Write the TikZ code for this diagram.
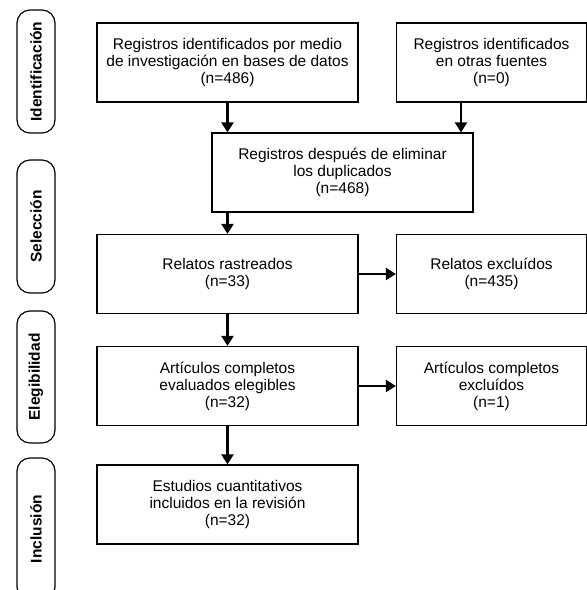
\documentclass[tikz,border=0pt]{standalone}
\usepackage{fontspec}
\setmainfont{Liberation Sans}
\usetikzlibrary{arrows.meta}
\begin{document}
\begin{tikzpicture}[x=1pt,y=-1pt,
  box/.style={draw, line width=1.2pt, minimum width=261pt, minimum height=79pt, align=center, inner sep=0pt,
    font=\fontsize{15.5pt}{17pt}\selectfont},
  sbox/.style={box, minimum width=190pt},
  phase/.style={draw, line width=1.2pt, rounded corners=13pt, rotate=90, minimum height=38pt, inner sep=0pt,
    font=\bfseries\fontsize{15.5pt}{17pt}\selectfont},
  arr/.style={line width=2.2pt, -{Triangle[length=10pt,width=12pt]}}]
\clip (0,0) rectangle (587,590);
\fill[white] (0,0) rectangle (587,590);
% phase labels
\node[phase, minimum width=123pt] (p1) at (36,71.5) {Identificación};
\node[phase, minimum width=133pt] (p2) at (36,226.5) {Selección};
\node[phase, minimum width=132pt] (p3) at (36,377) {Elegibilidad};
\node[phase, minimum width=142pt] (p4) at (36,529) {Inclusión};
% boxes
\node[box] (b1) at (227.5,62.5) {Registros identificados por medio\\de investigación en bases de datos\\(n=486)};
\node[sbox] (b2) at (491.5,62.5) {Registros identificados\\en otras fuentes\\(n=0)};
\node[box] (b3) at (342.5,172.5) {Registros después de eliminar\\los duplicados\\(n=468)};
\node[box] (b4) at (227.5,274) {Relatos rastreados\\(n=33)};
\node[sbox] (b5) at (491.5,274) {Relatos excluídos\\(n=435)};
\node[box] (b6) at (227.5,386) {Artículos completos\\evaluados elegibles\\(n=32)};
\node[sbox] (b7) at (491.5,386) {Artículos completos\\excluídos\\(n=1)};
\node[box] (b8) at (227.5,504.5) {Estudios cuantitativos\\incluidos en la revisión\\(n=32)};
% arrows
\draw[arr] (b1.south) -- (b1.south |- b3.north);
\draw[arr] ([xshift=-30.5pt]b2.south) -- ([xshift=-30.5pt]b2.south |- b3.north);
\draw[arr] (b3.south -| b4.north) -- (b4.north);
\draw[arr] (b4.east) -- (b5.west);
\draw[arr] (b4.south) -- (b6.north);
\draw[arr] (b6.east) -- (b7.west);
\draw[arr] (b6.south) -- (b8.north);
\end{tikzpicture}
\end{document}
